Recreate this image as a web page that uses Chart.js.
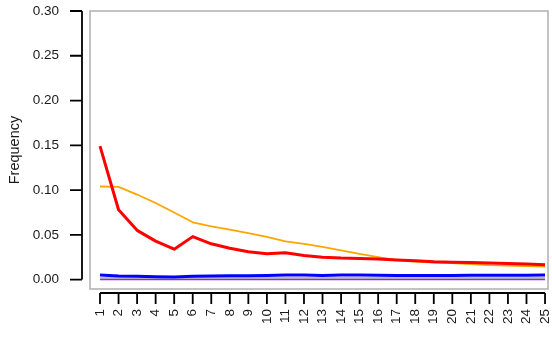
<!DOCTYPE html>
<html>
<head>
<meta charset="utf-8">
<script src="https://cdn.jsdelivr.net/npm/chart.js@4/dist/chart.umd.min.js"></script>
<style>
  html, body { margin: 0; padding: 0; background: #ffffff; }
  canvas { display: block; }
</style>
</head>
<body>
<canvas id="chart" width="552" height="337"></canvas>
<script>
// Lag positions along the x axis
const lags = [1, 2, 3, 4, 5, 6, 7, 8, 9, 10, 11, 12, 13, 14, 15, 16, 17, 18, 19, 20, 21, 22, 23, 24, 25];
const yTicks = [0.00, 0.05, 0.10, 0.15, 0.20, 0.25, 0.30];

// Frequency per lag, one array per series
const seriesRed = [0.149, 0.078, 0.055, 0.043, 0.034, 0.048, 0.040, 0.035, 0.031, 0.029, 0.030, 0.027, 0.025, 0.024, 0.0235, 0.023, 0.022, 0.021, 0.020, 0.0195, 0.019, 0.0185, 0.018, 0.0173, 0.0167];
const seriesOrange = [0.104, 0.1035, 0.095, 0.0855, 0.075, 0.064, 0.0595, 0.0557, 0.052, 0.0476, 0.0427, 0.040, 0.0365, 0.0327, 0.0287, 0.025, 0.0217, 0.020, 0.019, 0.0184, 0.0173, 0.0162, 0.0156, 0.015, 0.0145];
const seriesBlue = [0.0050, 0.0040, 0.0038, 0.0033, 0.0028, 0.0038, 0.0040, 0.0042, 0.0043, 0.0045, 0.0050, 0.0050, 0.0047, 0.0050, 0.0050, 0.0048, 0.0047, 0.0046, 0.0045, 0.0046, 0.0048, 0.0048, 0.0048, 0.0048, 0.0050];
const seriesGray = [0.0018, 0.0018, 0.0018, 0.0018, 0.0018, 0.0018, 0.0018, 0.0018, 0.0018, 0.0018, 0.0018, 0.0018, 0.0018, 0.0018, 0.0018, 0.0018, 0.0018, 0.0018, 0.0018, 0.0018, 0.0018, 0.0018, 0.0018, 0.0018, 0.0018];
const seriesPurple = [0.0003, 0.0003, 0.0003, 0.0003, 0.0003, 0.0003, 0.0003, 0.0003, 0.0003, 0.0003, 0.0003, 0.0003, 0.0003, 0.0003, 0.0003, 0.0003, 0.0003, 0.0003, 0.0003, 0.0003, 0.0003, 0.0003, 0.0003, 0.0003, 0.0003];

const toPoints = vals => lags.map((x, i) => ({ x: x, y: vals[i] }));

function lineSet(vals, color, width) {
  return {
    data: toPoints(vals),
    borderColor: color,
    borderWidth: width,
    pointRadius: 0,
    tension: 0,
    fill: false,
    borderJoinStyle: 'round',
    borderCapStyle: 'butt'
  };
}

// Fixed axis box sizes, with no extra overhang padding from the tick labels
function fixBox(size, key) {
  return function (scale) {
    scale[key] = size;
    scale.paddingLeft = 0;
    scale.paddingRight = 0;
    scale.paddingTop = 0;
    scale.paddingBottom = 0;
  };
}

// R-style frame: grey plot box plus detached black axes with outward ticks
const frame = {
  id: 'frame',
  beforeDatasetsDraw(chart) {
    const { ctx, chartArea: a } = chart;
    ctx.save();
    ctx.strokeStyle = '#b3b3b3';
    ctx.lineWidth = 1.6;
    ctx.strokeRect(a.left, a.top, a.right - a.left, a.bottom - a.top);
    ctx.restore();
  },
  afterDraw(chart) {
    const { ctx, chartArea: a, scales } = chart;
    const xs = scales.x, ys = scales.y;
    ctx.save();
    ctx.strokeStyle = '#000000';
    ctx.lineWidth = 1.8;
    ctx.lineCap = 'butt';

    // y axis
    const ax = a.left - 8;
    const y0 = ys.getPixelForValue(yTicks[0]);
    const y1 = ys.getPixelForValue(yTicks[yTicks.length - 1]);
    ctx.beginPath();
    ctx.moveTo(ax, y0);
    ctx.lineTo(ax, y1);
    yTicks.forEach(v => {
      const py = ys.getPixelForValue(v);
      ctx.moveTo(ax, py);
      ctx.lineTo(ax - 12, py);
    });
    ctx.stroke();

    // x axis
    const ay = a.bottom + 4;
    const x0 = xs.getPixelForValue(lags[0]);
    const x1 = xs.getPixelForValue(lags[lags.length - 1]);
    ctx.beginPath();
    ctx.moveTo(x0, ay);
    ctx.lineTo(x1, ay);
    lags.forEach(v => {
      const px = xs.getPixelForValue(v);
      ctx.moveTo(px, ay);
      ctx.lineTo(px, ay + 11);
    });
    ctx.stroke();
    ctx.restore();
  }
};

new Chart(document.getElementById('chart'), {
  type: 'line',
  data: {
    datasets: [
      lineSet(seriesRed, '#ff0000', 3),
      lineSet(seriesOrange, '#ffa500', 1.8),
      lineSet(seriesBlue, '#0000ff', 3),
      lineSet(seriesGray, '#aaaaaa', 1.5),
      lineSet(seriesPurple, '#a020f0', 1.6)
    ]
  },
  options: {
    responsive: false,
    animation: false,
    layout: { padding: { left: 0, right: 4, top: 11, bottom: 0 } },
    plugins: {
      legend: { display: false },
      tooltip: { enabled: false }
    },
    scales: {
      x: {
        type: 'linear',
        min: 0.46,
        max: 25.16,
        afterBuildTicks(scale) {
          scale.ticks = lags.map(v => ({ value: v }));
        },
        afterFit: fixBox(48, 'height'),
        grid: { display: false, drawTicks: false },
        border: { display: false },
        ticks: {
          autoSkip: false,
          minRotation: 90,
          maxRotation: 90,
          padding: 20,
          color: '#1a1a1a',
          font: { family: 'Liberation Sans, Arial, sans-serif', size: 13.5 },
          callback: v => String(v)
        }
      },
      y: {
        type: 'linear',
        min: -0.0105,
        max: 0.30,
        afterBuildTicks(scale) {
          scale.ticks = yTicks.map(v => ({ value: v }));
        },
        afterFit: fixBox(90, 'width'),
        grid: { display: false, drawTicks: false },
        border: { display: false },
        title: {
          display: true,
          text: 'Frequency',
          color: '#1a1a1a',
          padding: { top: 6, bottom: 0 },
          font: { family: 'Liberation Sans, Arial, sans-serif', size: 14.5 }
        },
        ticks: {
          padding: 31,
          color: '#1a1a1a',
          font: { family: 'Liberation Sans, Arial, sans-serif', size: 13.5 },
          callback: v => v.toFixed(2)
        }
      }
    }
  },
  plugins: [frame]
});
</script>
</body>
</html>
